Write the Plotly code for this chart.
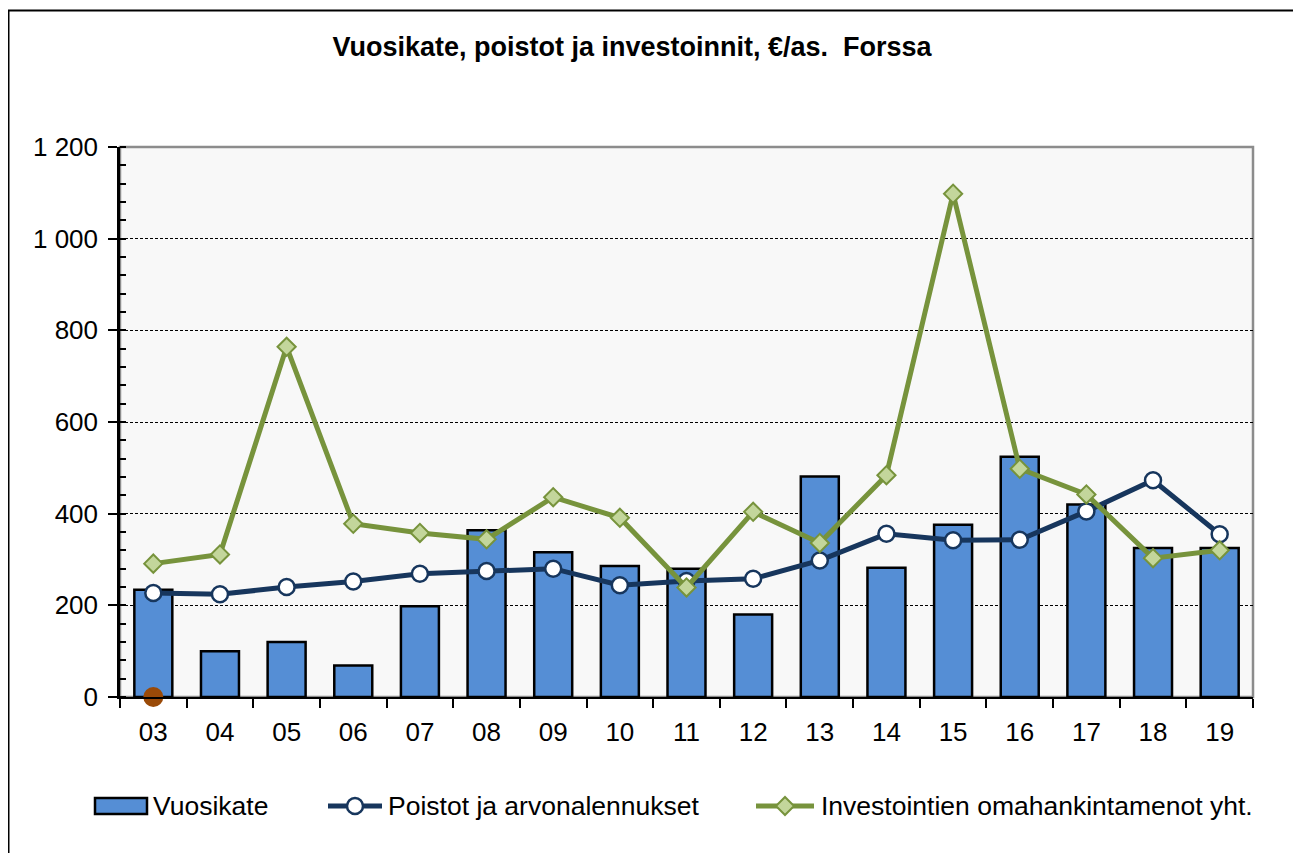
import plotly.graph_objects as go

years = ["03", "04", "05", "06", "07", "08", "09", "10", "11", "12", "13", "14", "15", "16", "17", "18", "19"]
vuosikate = [234, 100, 120, 69, 198, 364, 316, 286, 280, 180, 481, 282, 376, 524, 420, 325, 325]
poistot = [227, 224, 240, 252, 269, 275, 280, 244, 253, 258, 298, 356, 342, 343, 405, 473, 355]
investoinnit = [291, 311, 764, 378, 358, 344, 436, 391, 239, 404, 336, 484, 1098, 498, 442, 303, 320]
highlight_year = ["03"]
highlight_value = [0]
ytick_vals = [0, 200, 400, 600, 800, 1000, 1200]
ytick_text = ["0", "200", "400", "600", "800", "1 000", "1 200"]

title_text = "Vuosikate, poistot ja investoinnit, €/as.\u00a0 Forssa"
legend_names = ["Vuosikate", "Poistot ja arvonalennukset", "Investointien omahankintamenot yht."]

FONT = "Arial, 'Liberation Sans', sans-serif"
BAR = "#558ED5"
NAVY = "#17365D"
GREEN = "#77933C"
GREEN_FILL = "#C3D69B"
BROWN = "#9A4A08"

# the page body has an 8px margin; work in page pixels and shift
OFF = 8
FW, FH = 1301 - OFF, 853 - OFF
PL, PR, PT, PB = 120, 1253, 147, 697   # plot area in page pixels
W, H = PR - PL, PB - PT
def px(x):
    return (x - PL) / W
def py(y):
    return (PB - y) / H

fig = go.Figure()
fig.add_trace(go.Bar(x=years, y=vuosikate, name=legend_names[0], width=0.57,
                     marker=dict(color=BAR, line=dict(color="#000000", width=2.5)),
                     showlegend=False))
fig.add_trace(go.Scatter(x=years, y=poistot, name=legend_names[1], mode="lines+markers",
                         line=dict(color=NAVY, width=5),
                         marker=dict(symbol="circle", size=16, color="#FFFFFF",
                                     line=dict(color=NAVY, width=2.5)),
                         showlegend=False))
fig.add_trace(go.Scatter(x=years, y=investoinnit, name=legend_names[2], mode="lines+markers",
                         line=dict(color=GREEN, width=5),
                         marker=dict(symbol="diamond", size=14, color=GREEN_FILL,
                                     line=dict(color=GREEN, width=2)),
                         showlegend=False))
fig.add_trace(go.Scatter(x=highlight_year, y=highlight_value, mode="markers",
                         marker=dict(symbol="circle", size=20, color=BROWN),
                         cliponaxis=False, showlegend=False))

shapes = []
# outer frame
shapes.append(dict(type="rect", xref="paper", yref="paper", x0=px(8.5), x1=px(1400),
                   y0=py(1000), y1=py(10.5), line=dict(color="#000000", width=2), layer="below"))
# plot area border (grey top/right)
shapes.append(dict(type="rect", xref="paper", yref="paper", x0=0, x1=1, y0=0, y1=1,
                   line=dict(color="#8C8C8C", width=2.5), layer="below"))

# custom legend
ly = 806
shapes.append(dict(type="rect", xref="paper", yref="paper", x0=px(95), x1=px(147),
                   y0=py(814), y1=py(798), fillcolor=BAR, line=dict(color="#000000", width=2.5)))
shapes.append(dict(type="line", xref="paper", yref="paper", x0=px(328), x1=px(382),
                   y0=py(ly), y1=py(ly), line=dict(color=NAVY, width=5)))
shapes.append(dict(type="circle", xref="paper", yref="paper", xsizemode="pixel", ysizemode="pixel",
                   xanchor=px(355), yanchor=py(ly), x0=-8, x1=8, y0=-8, y1=8,
                   fillcolor="#FFFFFF", line=dict(color=NAVY, width=2.5)))
shapes.append(dict(type="line", xref="paper", yref="paper", x0=px(756), x1=px(814),
                   y0=py(ly), y1=py(ly), line=dict(color=GREEN, width=5)))
shapes.append(dict(type="path", xref="paper", yref="paper", xsizemode="pixel", ysizemode="pixel",
                   xanchor=px(785), yanchor=py(ly), path="M -9 0 L 0 9 L 9 0 L 0 -9 Z",
                   fillcolor=GREEN_FILL, line=dict(color=GREEN, width=2)))

annotations = []
for xpos, name in zip([151, 386, 819], legend_names):
    annotations.append(dict(x=px(xpos), y=py(ly), xref="paper", yref="paper", text=name,
                            showarrow=False, xanchor="left", yanchor="middle",
                            font=dict(family=FONT, size=26.5, color="#000000")))

fig.update_layout(
    width=FW, height=FH,
    margin=dict(l=PL - OFF, r=1301 - PR, t=PT - OFF, b=853 - PB),
    paper_bgcolor="#FFFFFF", plot_bgcolor="#F8F8F8",
    title=dict(text="<b>" + title_text + "</b>", x=(632 - OFF) / FW, y=1 - (47 - OFF) / FH,
               xanchor="center", yanchor="middle",
               font=dict(family=FONT, size=27, color="#000000")),
    shapes=shapes, annotations=annotations,
    showlegend=False,
)
fig.update_xaxes(type="category", range=[-0.5, 16.5], showgrid=False,
                 showline=True, linecolor="#000000", linewidth=2,
                 ticks="outside", tickson="boundaries", ticklen=9, tickwidth=1.5, tickcolor="#000000",
                 tickfont=dict(family=FONT, size=26, color="#000000"), ticklabelstandoff=11)
fig.update_yaxes(range=[0, 1200], tickvals=ytick_vals, ticktext=ytick_text,
                 showgrid=True, gridcolor="#000000", gridwidth=1, griddash="3px,2px",
                 showline=True, linecolor="#000000", linewidth=2.5,
                 ticks="outside", ticklen=9, tickwidth=2, tickcolor="#000000",
                 minor=dict(ticks="inside", dtick=40, ticklen=6, tickwidth=2, tickcolor="#000000", showgrid=False),
                 tickfont=dict(family=FONT, size=26, color="#000000"), ticklabelstandoff=5,
                 zeroline=False)

fig.write_html("out.html")
